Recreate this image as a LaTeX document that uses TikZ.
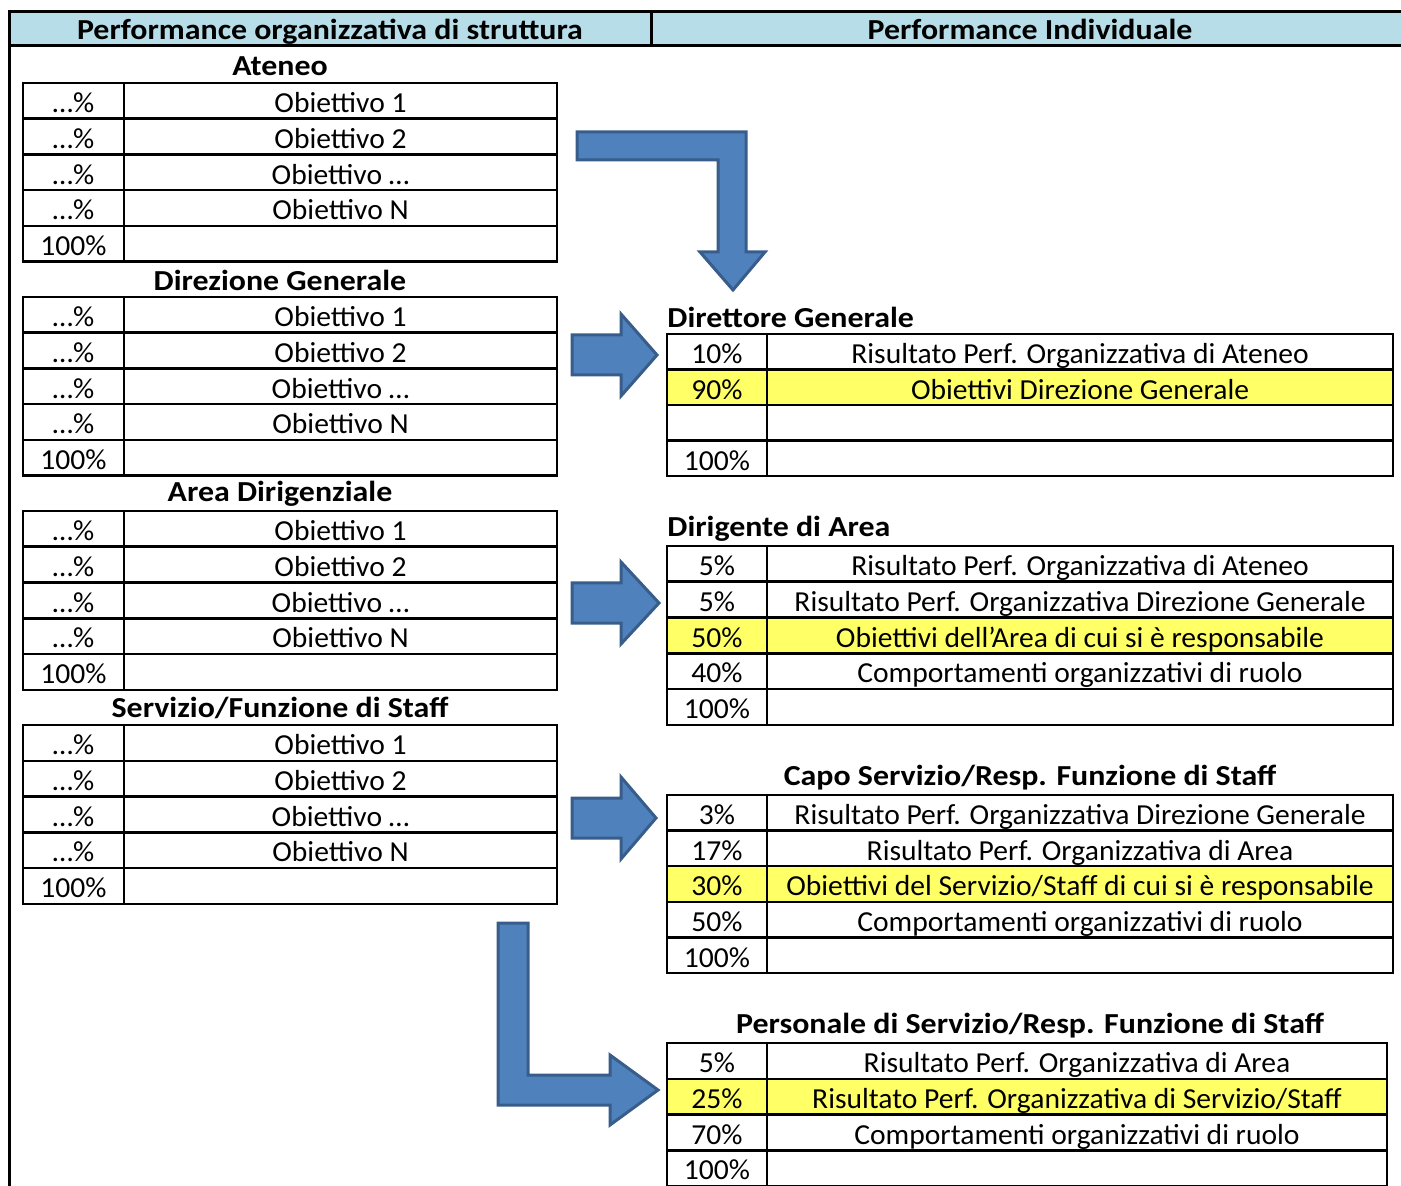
\documentclass[tikz,border=0pt]{standalone}
\usepackage{fontspec}
\setmainfont{Carlito}
\newfontfamily\cellfont[FakeStretch=1.02]{Carlito}
\newfontfamily\titlefont[FakeStretch=1.1]{Carlito}
\usetikzlibrary{positioning}

\definecolor{hdrblue}{HTML}{B7DEE8}
\definecolor{hlyellow}{HTML}{FFFF66}
\definecolor{arrfill}{HTML}{4F81BD}
\definecolor{arrline}{HTML}{385D8A}

\tikzset{
    cell/.style={draw, line width=1.25pt, inner sep=0pt, outer sep=0pt,
        minimum height=17.875pt, text height=11.8pt, text depth=0pt,
        font=\cellfont\fontsize{14.5pt}{16pt}\selectfont},
    pctcell/.style={cell, minimum width=50.5pt},
    objcell/.style={cell, minimum width=216.5pt},
    rpctcell/.style={cell, minimum width=50pt},
    robjcell/.style={cell, minimum width=313pt},
    tabtitle/.style={inner sep=0pt, font=\titlefont\bfseries\fontsize{14.5pt}{16pt}\selectfont},
    hdrcell/.style={draw, fill=hdrblue, line width=1.5pt, inner sep=0pt, outer sep=0pt,
        minimum height=17pt, text height=10.8pt, text depth=0pt, anchor=north west,
        font=\titlefont\bfseries\fontsize{14.5pt}{16pt}\selectfont},
    blockarrow/.style={fill=arrfill, draw=arrline, line width=1.5pt, line join=miter}
}

\begin{document}
\begin{tikzpicture}[x=0.5pt, y=-0.5pt]
    \useasboundingbox (0,0) rectangle (1401,1186);

    % header %
    \node [hdrcell, minimum width=321pt] (hdr-left) at (9,12)
        {Performance organizzativa di struttura};
    \node [hdrcell, minimum width=380pt, right=0pt of hdr-left] (hdr-right)
        {\hspace*{-1pt}Performance Individuale};
    \draw [line width=1.5pt] (hdr-left.south west) -- ++(0,1160);

    % organizzativa di struttura %
    \foreach \blk/\ttl [count=\b from 0] in {at/Ateneo, dg/Direzione Generale,
        ad/Area Dirigenziale, sf/{Servizio/Funzione di Staff}} {
        \node [tabtitle] (\blk-title) at (280, 66+214*\b) {\ttl};
        \foreach \pc/\ob [count=\r from 1] in {\ldots\%/Obiettivo 1,
            \ldots\%/Obiettivo 2, \ldots\%/Obiettivo \ldots,
            \ldots\%/Obiettivo N, 100\%/{}} {
            \node [pctcell, anchor=north west] (\blk-p\r)
                at (23, 83+214*\b+35.75*\r-35.75) {\pc};
            \node [objcell, right=0pt of \blk-p\r] (\blk-o\r) {\ob};
        }
    }

    % individuale %
    \node [tabtitle, anchor=west] (dirgen-title) at (667,317) {Direttore Generale};
    \foreach \pc/\ob/\fc [count=\r from 1] in {
        10\%/Risultato Perf. Organizzativa di Ateneo/white,
        90\%/Obiettivi Direzione Generale/hlyellow,
        {}/{}/white,
        100\%/{}/white} {
        \node [rpctcell, fill=\fc, anchor=north west] (dirgen-p\r)
            at (667, 334+35.5*\r-35.5) {\pc};
        \node [robjcell, fill=\fc, right=0pt of dirgen-p\r] (dirgen-o\r) {\ob};
    }

    \node [tabtitle, anchor=west] (dirarea-title) at (667,529) {Dirigente di Area};
    \foreach \pc/\ob/\fc [count=\r from 1] in {
        5\%/Risultato Perf. Organizzativa di Ateneo/white,
        5\%/Risultato Perf. Organizzativa Direzione Generale/white,
        50\%/Obiettivi dell’Area di cui si è responsabile/hlyellow,
        40\%/Comportamenti organizzativi di ruolo/white,
        100\%/{}/white} {
        \node [rpctcell, fill=\fc, anchor=north west] (dirarea-p\r)
            at (667, 546+35.75*\r-35.75) {\pc};
        \node [robjcell, fill=\fc, right=0pt of dirarea-p\r] (dirarea-o\r) {\ob};
    }

    \node [tabtitle] (caposerv-title) at (1030,778)
        {Capo Servizio/Resp. Funzione di Staff};
    \foreach \pc/\ob/\fc [count=\r from 1] in {
        3\%/Risultato Perf. Organizzativa Direzione Generale/white,
        17\%/Risultato Perf. Organizzativa di Area/white,
        30\%/{Obiettivi del Servizio/Staff di cui si è responsabile}/hlyellow,
        50\%/Comportamenti organizzativi di ruolo/white,
        100\%/{}/white} {
        \node [rpctcell, fill=\fc, anchor=north west] (caposerv-p\r)
            at (667, 795+35.6*\r-35.6) {\pc};
        \node [robjcell, fill=\fc, right=0pt of caposerv-p\r] (caposerv-o\r) {\ob};
    }

    \node [tabtitle] (persserv-title) at (1030,1026)
        {Personale di Servizio/Resp. Funzione di Staff};
    \foreach \pc/\ob/\fc [count=\r from 1] in {
        5\%/Risultato Perf. Organizzativa di Area/white,
        25\%/{Risultato Perf. Organizzativa di Servizio/Staff}/hlyellow,
        70\%/Comportamenti organizzativi di ruolo/white,
        100\%/{}/white} {
        \node [rpctcell, fill=\fc, anchor=north west] (persserv-p\r)
            at (667, 1043+35.75*\r-35.75) {\pc};
        \node [robjcell, minimum width=310pt, fill=\fc, right=0pt of persserv-p\r]
            (persserv-o\r) {\ob};
    }

    % arrow heaven %
    \draw [blockarrow] (577,132) -- (746,132) -- (746,252) -- (765,252)
        -- (733,290) -- (700,252) -- (718,252) -- (718,160) -- (577,160) -- cycle;
    \foreach \yc/\tip in {355/657, 603/659, 818/656} {
        \draw [blockarrow] (572,\yc-20) -- (621,\yc-20) -- (621,\yc-41)
            -- (\tip,\yc) -- (621,\yc+41) -- (621,\yc+20) -- (572,\yc+20) -- cycle;
    }
    \draw [blockarrow] (498,923) -- (528,923) -- (528,1075) -- (610,1075)
        -- (610,1055) -- (658,1090) -- (610,1125) -- (610,1105) -- (498,1105) -- cycle;
\end{tikzpicture}
\end{document}
